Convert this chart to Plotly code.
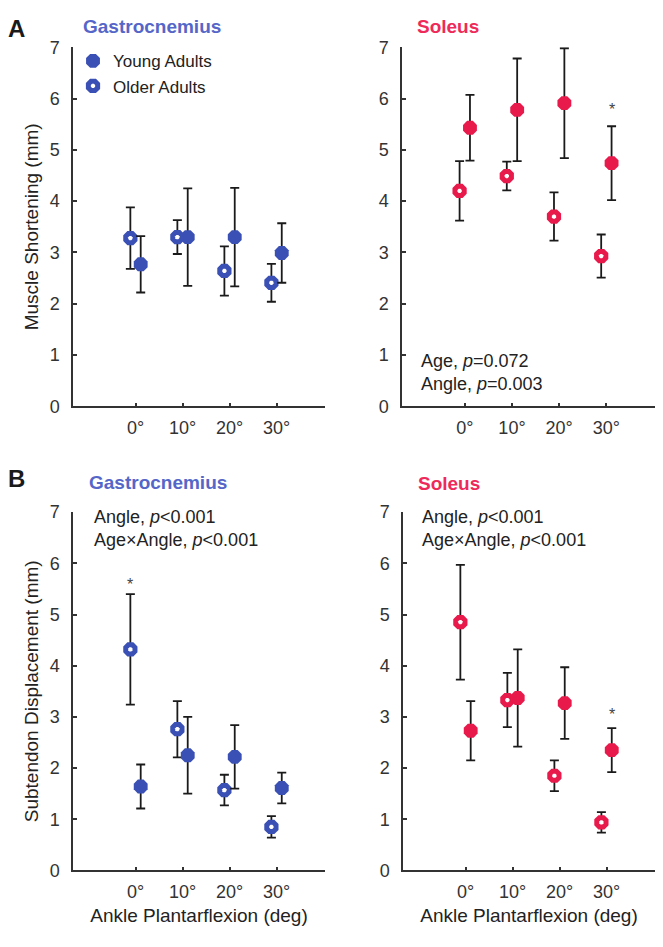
import plotly.graph_objects as go

# ---------------- data ----------------
angles = [0, 10, 20, 30]
angle_labels = ["0°", "10°", "20°", "30°"]
yticks = [0, 1, 2, 3, 4, 5, 6, 7]

# Muscle shortening (mm)
gas_young_ms = [2.77, 3.30, 3.30, 2.99]
gas_young_ms_err = [0.55, 0.95, 0.96, 0.58]
gas_older_ms = [3.28, 3.30, 2.64, 2.41]
gas_older_ms_err = [0.60, 0.33, 0.48, 0.37]
sol_young_ms = [5.43, 5.78, 5.91, 4.74]
sol_young_ms_err = [0.64, 1.00, 1.07, 0.72]
sol_older_ms = [4.20, 4.49, 3.70, 2.93]
sol_older_ms_err = [0.58, 0.28, 0.47, 0.42]

# Subtendon displacement (mm)
gas_young_sd = [1.64, 2.25, 2.22, 1.61]
gas_young_sd_err = [0.43, 0.75, 0.62, 0.30]
gas_older_sd = [4.32, 2.76, 1.57, 0.85]
gas_older_sd_err = [1.08, 0.55, 0.30, 0.21]
sol_young_sd = [2.73, 3.37, 3.27, 2.35]
sol_young_sd_err = [0.58, 0.95, 0.70, 0.43]
sol_older_sd = [4.85, 3.33, 1.85, 0.94]
sol_older_sd_err = [1.12, 0.53, 0.30, 0.20]

# significance markers: (panel, group, angle index, y)
stars = [("sol_ms", "young", 3, 5.86), ("gas_sd", "older", 0, 5.66), ("sol_sd", "young", 3, 3.12)]

# ---------------- styles ----------------
BLUE = "#3a50b4"
BLUE_T = "#5566c8"
RED = "#e8194b"
RED_T = "#ee2a5a"
AX = "#333333"
FONT = "Liberation Sans, Arial, sans-serif"
OFF = 1.1  # horizontal offset of the two groups (deg)

W, H = 663, 947


def px_x(p):
    return p / W


def px_y(p):
    return 1 - p / H


panels = {
    "gas_ms": dict(xa="x", ya="y", dom_x=(73, 325), dom_y=(38, 405), color=BLUE,
                   young=(gas_young_ms, gas_young_ms_err), older=(gas_older_ms, gas_older_ms_err)),
    "sol_ms": dict(xa="x2", ya="y2", dom_x=(402, 655), dom_y=(38, 405), color=RED,
                   young=(sol_young_ms, sol_young_ms_err), older=(sol_older_ms, sol_older_ms_err)),
    "gas_sd": dict(xa="x3", ya="y3", dom_x=(73, 325), dom_y=(513, 879), color=BLUE,
                   young=(gas_young_sd, gas_young_sd_err), older=(gas_older_sd, gas_older_sd_err)),
    "sol_sd": dict(xa="x4", ya="y4", dom_x=(403, 655), dom_y=(513, 879), color=RED,
                   young=(sol_young_sd, sol_young_sd_err), older=(sol_older_sd, sol_older_sd_err)),
}

fig = go.Figure()


def eb(e):
    return dict(type="data", array=e, visible=True, color="#1a1a1a", thickness=1.8, width=4.5)


for i, (key, p) in enumerate(panels.items()):
    oy, oe = p["older"]
    yy, ye = p["young"]
    fig.add_trace(go.Scatter(
        x=[a - OFF for a in angles], y=oy, error_y=eb(oe), mode="markers",
        xaxis=p["xa"], yaxis=p["ya"], name="Older Adults", showlegend=(i == 0),
        marker=dict(symbol="octagon", size=10, color="white", line=dict(color=p["color"], width=5)),
    ))
    fig.add_trace(go.Scatter(
        x=[a + OFF for a in angles], y=yy, error_y=eb(ye), mode="markers",
        xaxis=p["xa"], yaxis=p["ya"], name="Young Adults", showlegend=(i == 0),
        marker=dict(symbol="octagon", size=15, color=p["color"], line=dict(width=0)),
    ))

annotations = []
for key, grp, idx, yv in stars:
    p = panels[key]
    xv = angles[idx] + (OFF if grp == "young" else -OFF)
    annotations.append(dict(x=xv, y=yv, xref=p["xa"], yref=p["ya"], text="*", showarrow=False,
                            font=dict(family=FONT, size=16, color="#444444"), yshift=-4))

layout_axes = {}
for i, (key, p) in enumerate(panels.items()):
    n = "" if i == 0 else str(i + 1)
    bottom = key.endswith("sd")
    layout_axes["xaxis" + n] = dict(
        domain=[px_x(p["dom_x"][0]), px_x(p["dom_x"][1])], anchor="y" + n,
        range=[-13.3, 40.3], tickvals=angles, ticktext=angle_labels,
        showline=True, linecolor=AX, linewidth=1.5, ticks="inside", ticklen=4, tickwidth=1.5,
        tickcolor=AX, showgrid=False, zeroline=False, ticklabelstandoff=4,
        tickfont=dict(family=FONT, size=18, color=AX),
        title=dict(text="Ankle Plantarflexion (deg)" if bottom else "",
                   font=dict(family=FONT, size=19, color="#222222"), standoff=8),
    )
    ytitle = ""
    if key == "gas_ms":
        ytitle = "Muscle Shortening (mm)"
    elif key == "gas_sd":
        ytitle = "Subtendon Displacement (mm)"
    layout_axes["yaxis" + n] = dict(
        domain=[px_y(p["dom_y"][1]), px_y(p["dom_y"][0])], anchor="x" + n,
        range=[0, 7], tickvals=yticks,
        showline=True, linecolor=AX, linewidth=1.5, ticks="inside", ticklen=4, tickwidth=1.5,
        tickcolor=AX, showgrid=False, zeroline=False, ticklabelstandoff=8,
        tickfont=dict(family=FONT, size=18, color=AX),
        title=dict(text=ytitle, font=dict(family=FONT, size=19, color="#222222"), standoff=6),
    )

# panel letters
for t, x, y in [("A", 6, 19), ("B", 6, 479)]:
    annotations.append(dict(x=px_x(x), y=px_y(y), xref="paper", yref="paper", xanchor="left", yanchor="middle",
                            text="<b>%s</b>" % t, showarrow=False, font=dict(family=FONT, size=24, color="#1a1a1a")))
# muscle titles
titles = [("Gastrocnemius", 81, 17, BLUE_T), ("Soleus", 415, 17, RED_T),
          ("Gastrocnemius", 87, 483, BLUE_T), ("Soleus", 416, 484, RED_T)]
for t, x, y, c in titles:
    annotations.append(dict(x=px_x(x), y=px_y(y), xref="paper", yref="paper", xanchor="left", yanchor="middle",
                            text="<b>%s</b>" % t, showarrow=False, font=dict(family=FONT, size=19, color=c)))

# statistics text
stats = [
    ("Age, <i>p</i>=0.072<br>Angle, <i>p</i>=0.003", 419, 370),
    ("Angle, <i>p</i>&lt;0.001<br>Age×Angle, <i>p</i>&lt;0.001", 92, 530),
    ("Angle, <i>p</i>&lt;0.001<br>Age×Angle, <i>p</i>&lt;0.001", 420, 530),
]
for t, x, y in stats:
    annotations.append(dict(x=px_x(x), y=px_y(y), xref="paper", yref="paper", xanchor="left", yanchor="middle",
                            align="left", text=t, showarrow=False,
                            font=dict(family=FONT, size=18, color="#222222")))

fig.update_layout(
    width=W, height=H, margin=dict(l=0, r=0, t=0, b=0),
    paper_bgcolor="white", plot_bgcolor="white",
    font=dict(family=FONT, size=18, color="#222222"),
    annotations=annotations,
    legend=dict(x=px_x(73), y=px_y(34), xanchor="left", yanchor="top", bgcolor="rgba(0,0,0,0)",
                font=dict(family=FONT, size=17, color="#222222"), traceorder="reversed",
                itemwidth=30, tracegroupgap=0),
    **layout_axes,
)

fig.write_html("out.html", config={"displayModeBar": False},
               post_script="document.body.style.margin='0px';document.body.style.overflow='hidden';")
